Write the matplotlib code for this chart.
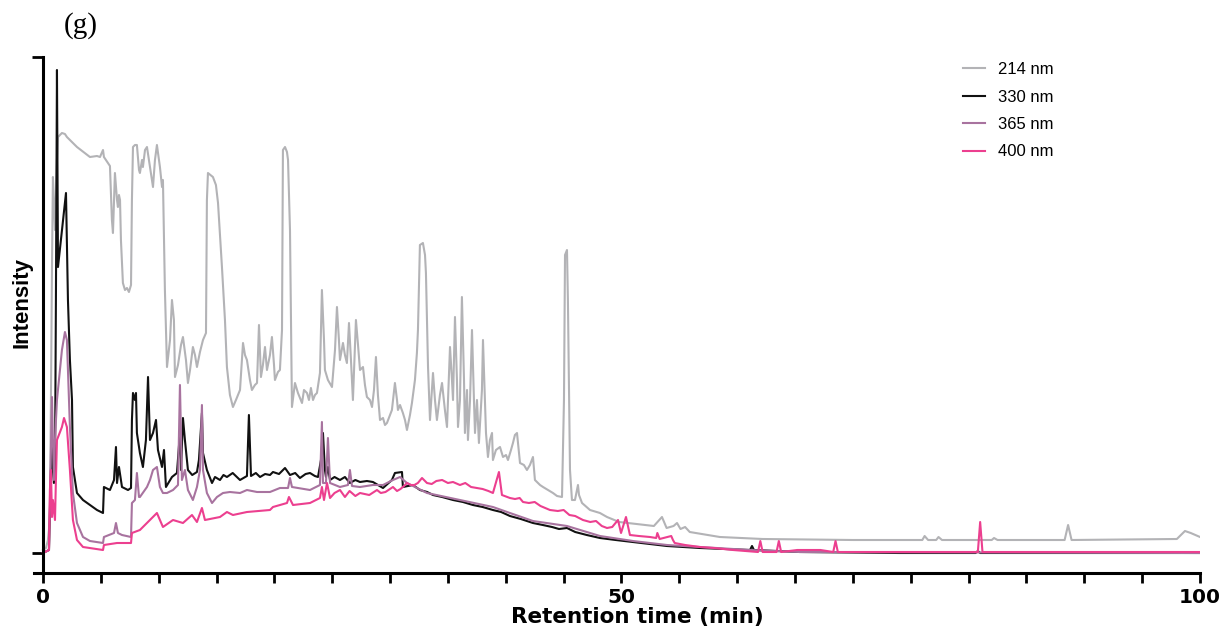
import matplotlib
matplotlib.use("Agg")
import matplotlib.pyplot as plt
from matplotlib.ticker import MultipleLocator

# ---------------- data (retention time in min, intensity in arbitrary units) ----------------
series_names = ["214 nm", "330 nm", "365 nm", "400 nm"]
series_colors = ["#b3b3b6", "#111111", "#a8739f", "#ec3f8f"]

t_214 = [0, 0.26, 0.43, 0.6, 0.69, 0.78, 0.86, 0.95, 1.04, 1.12, 1.21, 1.3, 1.64, 1.9, 2.07, 2.94,
         4.06, 4.67, 4.93, 5.19, 5.27, 5.62, 5.79, 5.96, 6.05, 6.22, 6.4, 6.48, 6.57, 6.66, 6.74,
         6.91, 7.09, 7.26, 7.43, 7.61, 7.69, 7.78, 7.95, 8.12, 8.3, 8.38, 8.56, 8.64, 8.82, 8.99,
         9.16, 9.25, 9.42, 9.51, 9.68, 9.85, 10.03, 10.11, 10.29, 10.37, 10.54, 10.72, 10.98, 11.15,
         11.32, 11.41, 11.67, 11.93, 12.1, 12.36, 12.53, 12.71, 12.96, 13.14, 13.31, 13.57, 13.83,
         14.09, 14.17, 14.26, 14.69, 14.95, 15.13, 15.47, 15.73, 15.9, 16.16, 16.42, 16.68, 17.03,
         17.29, 17.46, 17.63, 17.89, 18.06, 18.32, 18.5, 18.67, 18.84, 19.01, 19.19, 19.36, 19.62,
         19.79, 19.97, 20.05, 20.31, 20.48, 20.66, 20.74, 20.92, 21.09, 21.18, 21.35, 21.52, 21.78,
         22.04, 22.21, 22.39, 22.56, 22.82, 22.99, 23.16, 23.34, 23.51, 23.68, 23.94, 24.11, 24.29,
         24.37, 24.63, 24.98, 25.24, 25.41, 25.58, 25.67, 25.93, 26.1, 26.27, 26.45, 26.62, 26.79,
         27.05, 27.23, 27.4, 27.66, 27.83, 28.0, 28.26, 28.44, 28.61, 28.78, 28.95, 29.13, 29.39,
         29.56, 29.73, 29.99, 30.16, 30.42, 30.6, 30.68, 30.86, 31.11, 31.29, 31.46, 31.72, 31.89,
         32.15, 32.32, 32.41, 32.58, 32.84, 33.02, 33.1, 33.28, 33.45, 33.71, 33.88, 34.05, 34.31,
         34.49, 34.74, 34.92, 35.18, 35.35, 35.44, 35.61, 35.78, 35.87, 36.04, 36.21, 36.39, 36.47,
         36.65, 36.73, 36.91, 37.08, 37.25, 37.34, 37.51, 37.68, 37.94, 38.03, 38.2, 38.29, 38.46,
         38.63, 38.81, 38.89, 39.15, 39.5, 39.76, 40.02, 40.19, 40.45, 40.62, 40.79, 40.97, 41.23,
         41.57, 41.83, 42.09, 42.35, 42.52, 42.96, 43.22, 43.65, 44.08, 44.43, 44.86, 45.03, 45.12,
         45.29, 45.37, 45.55, 45.72, 45.98, 46.15, 46.24, 46.33, 46.59, 47.28, 48.14, 48.75, 49.8,
         52.8, 53.5, 53.9, 54.5, 54.8, 55.1, 55.5, 55.9, 58.5, 62.2, 70.0, 76.0, 76.2, 76.5, 77.2,
         77.4, 77.7, 82.0, 82.2, 82.5, 88.3, 88.6, 88.9, 98.0, 98.7, 99.2, 100.0]
v_214 = [3, 5, 13, 33, 153, 286, 376, 353, 323, 353, 393, 416, 420, 419, 416, 406,
         396, 397, 396, 403, 396, 390, 387, 333, 320, 380, 353, 346, 358, 353, 313,
         270, 263, 265, 261, 268, 353, 406, 408, 408, 383, 380, 393, 386, 403, 406,
         393, 386, 373, 366, 393, 408, 393, 386, 366, 373, 263, 186, 213, 253,
         233, 176, 188, 208, 216, 193, 170, 183, 206, 198, 186, 201, 213,
         220, 353, 380, 376, 368, 350, 286, 233, 186, 158, 146, 153, 163,
         210, 198, 193, 173, 163, 168, 170, 228, 176, 188, 206, 183, 198,
         216, 188, 173, 181, 183, 223, 403, 406, 401, 393, 323, 146, 170,
         160, 155, 150, 163, 160, 153, 165, 153, 158, 160, 180, 263, 213,
         183, 173, 166, 203, 246, 213, 193, 210, 198, 190, 230, 193, 153,
         233, 208, 183, 186, 168, 156, 153, 146, 163, 196, 158, 133, 135,
         128, 130, 138, 143, 170, 153, 143, 148, 140, 133, 123, 138, 150,
         173, 200, 223, 308, 310, 298, 280, 186, 133, 180, 153, 133, 158,
         170, 143, 126, 206, 173, 153, 236, 173, 126, 153, 256, 173, 120,
         163, 113, 153, 223, 153, 120, 153, 110, 163, 213, 153, 120, 96,
         113, 120, 93, 103, 106, 96, 98, 93, 103, 110, 118, 120, 90,
         88, 83, 88, 96, 73, 68, 66, 63, 60, 57, 56, 153, 298,
         303, 253, 83, 53, 53, 63, 68, 58, 50, 43, 40, 36, 31,
         27, 36, 25, 27, 30, 24, 26, 21, 16, 14, 13, 13, 17, 13, 13,
         16, 13, 13, 15, 13, 13, 28, 13, 14, 22, 20, 16]

t_330 = [0, 0.52, 0.69, 0.78, 0.86, 0.95, 1.04, 1.12, 1.21, 1.25, 1.3, 1.99, 2.16, 2.33, 2.51,
         2.59, 2.94, 3.46, 4.06, 4.67, 5.19, 5.27, 5.79, 6.14, 6.31, 6.4, 6.57, 6.83, 7.35, 7.61,
         7.69, 7.78, 7.95, 8.04, 8.12, 8.38, 8.64, 8.9, 9.08, 9.25, 9.51, 9.77, 9.94, 10.29,
         10.46, 10.63, 11.15, 11.58, 11.84, 11.93, 12.1, 12.27, 12.53, 12.9, 13.31, 13.48, 13.74,
         13.83, 14.17, 14.61, 14.87, 15.3, 15.6, 15.9, 16.4, 17.03, 17.63, 17.8, 17.98, 18.4,
         18.76, 19.2, 19.62, 19.88, 20.4, 20.92, 21.35, 21.8, 22.21, 22.7, 23.08, 23.5, 23.77,
         24.03, 24.2, 24.37, 24.46, 24.63, 24.81, 25.2, 25.67, 26.1, 26.53, 27.0, 27.4, 28.0,
         28.52, 29.39, 30.16, 30.42, 31.03, 31.11, 31.98, 32.58, 33.2, 33.71, 34.5, 35.44, 36.3,
         37.16, 38.0, 38.89, 39.6, 40.36, 41.3, 42.35, 43.2, 44.0, 44.6, 45.29, 46.0, 47.0, 48.14,
         49.5, 50.99, 52.5, 53.93, 56.78, 59.0, 61.11, 61.28, 61.45, 65.4,
         74.0, 80.6, 80.8, 81.0, 100.0]
v_330 = [0, 3, 83, 113, 83, 70, 83, 253, 483, 403, 286, 360, 253, 193, 153,
         86, 60, 53, 48, 43, 40, 66, 63, 73, 106, 70, 86, 66, 63, 65,
         133, 160, 153, 160, 120, 100, 86, 113, 176, 113, 120, 133, 103, 86,
         103, 66, 76, 80, 120, 83, 135, 113, 83, 78, 81, 93, 140,
         100, 83, 70, 76, 73, 78, 76, 80, 73, 77, 138, 77, 80,
         76, 79, 78, 81, 79, 85, 78, 80, 75, 79, 80, 77, 76,
         93, 120, 83, 76, 86, 73, 76, 73, 76, 70, 73, 71, 72,
         71, 65, 73, 80, 81, 66, 68, 63, 61, 58, 56, 53, 51,
         48, 46, 43, 41, 37, 34, 30, 28, 26, 24, 25, 21, 18, 15,
         13, 11, 9, 7, 5, 4, 3, 7, 3, 1,
         0, 0, 2, 0, 0]

t_365 = [0, 0.52, 0.69, 0.78, 0.86, 0.95, 1.04, 1.21, 1.64, 1.9, 2.07, 2.33, 2.59, 2.94, 3.46,
         4.06, 5.19, 5.27, 6.14, 6.31, 6.48, 6.83, 7.61, 7.69, 7.95, 8.12, 8.3, 8.38, 8.99, 9.25,
         9.51, 9.85, 10.11, 10.37, 10.72, 11.24, 11.67, 11.84, 12.01, 12.27, 12.53, 12.96, 13.31,
         13.57, 13.74, 13.83, 14.17, 14.61, 15.04, 15.56, 16.16, 17.03, 17.63, 18.5, 19.62, 20.48,
         21.18, 21.35, 21.52, 23.08, 23.94, 24.11, 24.2, 24.46, 24.63, 24.81, 25.67, 26.36, 26.53,
         26.71, 27.4, 28.52, 29.39, 30.25, 30.86, 31.46, 33.19, 36.04, 38.89, 40.36, 42.35, 45.29,
         48.14, 50.99, 53.93, 56.78, 61.11, 65.4, 100.0]
v_365 = [0, 3, 103, 156, 113, 73, 113, 153, 203, 221, 213, 126, 60, 30, 16,
         12, 10, 16, 20, 30, 20, 18, 16, 50, 53, 80, 56, 56, 66, 73,
         83, 86, 66, 60, 60, 63, 68, 168, 73, 83, 63, 53, 66,
         83, 148, 83, 60, 50, 56, 60, 61, 60, 63, 61, 61, 65,
         65, 75, 66, 63, 68, 131, 70, 70, 115, 70, 66, 68, 83,
         67, 66, 68, 68, 73, 76, 70, 60, 53, 46, 40, 32, 27,
         17, 12, 8, 6, 3, 1, 0]

t_400 = [0, 0.52, 0.6, 0.69, 0.78, 0.86, 1.04, 1.12, 1.21, 1.64, 1.82, 2.07, 2.33, 2.59, 2.94,
         3.46, 5.19, 5.27, 6.4, 7.61, 7.69, 8.38, 8.99, 9.51, 9.85, 10.37, 11.24, 12.1, 12.88,
         13.31, 13.74, 14.0, 15.3, 15.9, 16.42, 17.63, 19.62, 19.88, 21.09, 21.26, 21.61, 23.08,
         23.94, 24.11, 24.29, 24.55, 24.81, 25.2, 25.67, 26.1, 26.5, 27.0, 27.4, 28.2, 28.87, 29.2,
         29.6, 30.25, 30.6, 30.9, 31.2, 31.46, 31.8, 32.1, 32.4, 32.76, 33.19, 33.6, 34.0, 34.5,
         35.0, 35.44, 36.04, 36.5, 37.0, 37.51, 38.0, 38.5, 38.89, 39.41, 39.67, 40.36, 40.8, 41.2,
         41.49, 42.0, 42.5, 43.0, 43.82, 44.5, 45.0, 45.5, 46.0, 46.67, 47.3, 47.8, 48.3, 48.75,
         49.2, 49.7, 49.96, 50.39, 50.73, 51.5, 52.46, 53.0, 53.1, 53.3, 54.3, 54.45, 54.6, 55.5,
         56.78, 58.0, 59.64, 61.8, 62.0, 62.2, 63.4, 63.6, 63.8, 65.2, 67.2, 68.3, 68.5, 68.7,
         80.8, 81.0, 81.2, 100.0]
v_400 = [0, 3, 63, 83, 36, 53, 33, 73, 113, 126, 135, 126, 83, 33, 13,
         6, 3, 8, 10, 10, 20, 23, 30, 36, 40, 26, 33, 30, 38,
         31, 45, 33, 36, 41, 38, 41, 43, 46, 50, 56, 48, 50,
         55, 66, 53, 70, 55, 60, 63, 56, 62, 57, 60, 58, 63, 60,
         61, 66, 62, 64, 67, 70, 68, 68, 70, 75, 70, 69, 72, 73,
         70, 71, 68, 70, 66, 65, 64, 62, 60, 81, 58, 55, 54, 55,
         51, 50, 51, 47, 43, 42, 43, 38, 37, 33, 31, 32, 27, 25,
         26, 33, 20, 36, 18, 17, 16, 15, 20, 14, 17, 13, 10, 8,
         6, 5, 3, 1, 12, 1, 1, 12, 1, 3, 3, 1, 12, 1,
         1, 31, 1, 1]

x_major_ticks = [0, 50, 100]
x_tick_labels = ["0", "50", "100"]

# ---------------- figure ----------------
W, H = 1223, 635
fig = plt.figure(figsize=(W / 100, H / 100), dpi=100)
left, right, top, bottom = 33.7, 1200, 57, 573
ax = fig.add_axes([left / W, 1 - bottom / H, (right - left) / W, (bottom - top) / H])

sans = "Liberation Sans"
wide = "DejaVu Sans"
for t, v, name, c in zip([t_214, t_330, t_365, t_400], [v_214, v_330, v_365, v_400],
                         series_names, series_colors):
    ax.plot(t, v, color=c, lw=1.5, label=name, solid_joinstyle="round")

ax.set_xlim(-0.8, 100)
ax.set_ylim(-20, 496)

for s in ["top", "right"]:
    ax.spines[s].set_visible(False)
ax.spines["left"].set_position(("data", 0))
ax.spines["left"].set_linewidth(2.2)
ax.spines["bottom"].set_linewidth(2.2)

ax.set_xticks(x_major_ticks)
ax.set_xticklabels(x_tick_labels, fontfamily=wide, fontweight="bold", fontsize=14.5)
ax.xaxis.set_minor_locator(MultipleLocator(5))
ax.tick_params(axis="x", which="both", direction="out", length=7, width=2, pad=4)
ax.set_yticks([0, 496])
ax.set_yticklabels([])
ax.tick_params(axis="y", which="both", direction="out", length=8, width=2)

fig.text(637 / W, 1 - 617 / H, "Retention time (min)", fontfamily=wide, fontweight="bold",
         fontsize=15.5, ha="center", va="center")
fig.text(22 / W, 1 - 302 / H, "Intensity", fontfamily=sans, fontweight="bold",
         fontsize=16, rotation=90, ha="center", va="center")
fig.text(81 / W, 1 - 26 / H, "(g)", fontfamily="Liberation Serif", fontsize=21,
         ha="center", va="center")

leg = ax.legend(loc="upper left", bbox_to_anchor=(963 / W, 1 - 62 / H),
                bbox_transform=fig.transFigure, frameon=False, borderpad=0,
                borderaxespad=0, handlelength=1.3, handletextpad=0.8, labelspacing=0.75,
                prop={"family": sans, "size": 12})

fig.savefig("out.png", dpi=100)
